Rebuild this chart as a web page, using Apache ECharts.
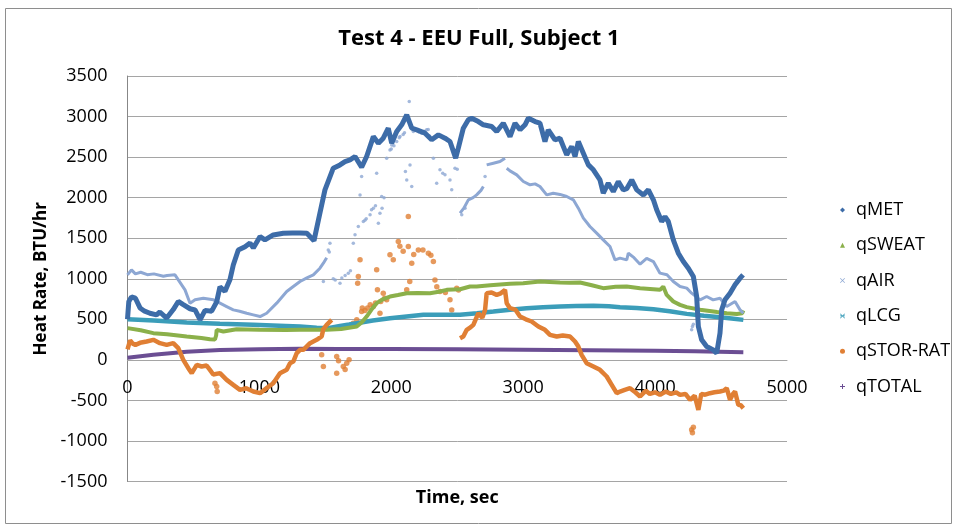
<!DOCTYPE html>
<html>
<head>
<meta charset="utf-8">
<script src="https://cdn.jsdelivr.net/npm/echarts@6/dist/echarts.min.js"></script>
<style>
html,body{margin:0;padding:0;background:#fff;}
#c{width:958px;height:527px;}
</style>
</head>
<body>
<div id="c"></div>
<script>
// ---------- data ----------
const X_TICKS = [0, 1000, 2000, 3000, 4000, 5000];
const Y_TICKS = [-1500, -1000, -500, 0, 500, 1000, 1500, 2000, 2500, 3000, 3500];
const SERIES_NAMES = ['qMET', 'qSWEAT', 'qAIR', 'qLCG', 'qSTOR-RAT', 'qTOTAL'];

const MET_T = [0, 10, 30, 60, 95, 130, 170, 220, 245, 297, 347, 385, 423, 474, 512, 550, 588, 638, 676, 701, 739, 777, 802, 840, 891, 929, 954, 1005, 1042, 1105, 1181, 1250, 1308, 1360, 1414, 1459, 1497, 1560, 1611, 1649, 1687, 1725, 1775, 1813, 1864, 1902, 1939, 1977, 2003, 2041, 2079, 2117, 2155, 2193, 2256, 2306, 2357, 2407, 2445, 2488, 2508, 2546, 2584, 2610, 2660, 2698, 2761, 2799, 2849, 2900, 2938, 2976, 3014, 3039, 3090, 3127, 3165, 3190, 3241, 3279, 3330, 3368, 3393, 3418, 3456, 3494, 3532, 3582, 3607, 3645, 3683, 3721, 3759, 3785, 3823, 3861, 3911, 3949, 3987, 4012, 4050, 4075, 4100, 4138, 4176, 4214, 4252, 4290, 4315, 4328, 4353, 4391, 4441, 4467, 4492, 4505, 4530, 4568, 4606, 4644, 4667];
const MET_V = [500, 720, 775, 760, 640, 600, 575, 555, 590, 515, 620, 720, 680, 630, 615, 495, 610, 600, 715, 900, 845, 990, 1170, 1355, 1395, 1440, 1380, 1520, 1480, 1540, 1560, 1565, 1565, 1560, 1470, 1810, 2096, 2363, 2404, 2445, 2466, 2507, 2375, 2507, 2753, 2671, 2733, 2856, 2671, 2815, 2898, 3021, 2856, 2836, 2795, 2713, 2774, 2733, 2692, 2487, 2610, 2856, 2960, 2980, 2938, 2898, 2877, 2815, 2918, 2753, 2918, 2836, 2898, 2980, 2938, 2918, 2692, 2836, 2713, 2733, 2528, 2630, 2507, 2692, 2548, 2404, 2343, 2219, 2055, 2178, 2075, 2199, 2096, 2110, 2219, 2096, 2034, 2096, 1973, 1850, 1706, 1767, 1706, 1480, 1315, 1212, 1130, 1028, 781, 411, 247, 164, 123, 82, 329, 617, 740, 822, 925, 1007, 1048];

const SWEAT_T = [0, 100, 196, 300, 449, 560, 625, 663, 672, 676, 727, 827, 1000, 1200, 1308, 1434, 1510, 1620, 1738, 1775, 1813, 1850, 1889, 1939, 1990, 2050, 2117, 2200, 2293, 2360, 2420, 2521, 2597, 2647, 2750, 2900, 3000, 3127, 3200, 3279, 3350, 3431, 3520, 3607, 3700, 3785, 3886, 3987, 4037, 4062, 4088, 4138, 4189, 4240, 4341, 4470, 4543, 4620, 4660, 4669];
const SWEAT_V = [391, 365, 329, 315, 288, 270, 255, 252, 300, 370, 349, 378, 372, 368, 370, 370, 372, 380, 411, 460, 534, 620, 699, 750, 781, 800, 822, 825, 822, 840, 863, 870, 904, 904, 920, 937, 945, 966, 960, 953, 950, 953, 920, 884, 900, 904, 884, 871, 863, 904, 801, 720, 678, 650, 617, 590, 575, 565, 575, 610];

const LCG_T = [0, 200, 449, 700, 954, 1200, 1308, 1434, 1530, 1611, 1680, 1738, 1860, 1990, 2117, 2243, 2400, 2521, 2650, 2774, 2900, 3026, 3150, 3279, 3400, 3532, 3650, 3734, 3860, 3987, 4110, 4240, 4370, 4492, 4580, 4669];
const LCG_V = [502, 485, 460, 445, 432, 418, 411, 395, 392, 419, 435, 452, 485, 514, 535, 555, 556, 555, 575, 596, 618, 637, 648, 657, 663, 666, 660, 650, 640, 625, 600, 567, 545, 526, 510, 493];

const TOTAL_T = [0, 196, 449, 701, 1000, 1308, 1600, 2000, 2500, 3000, 3500, 4000, 4300, 4669];
const TOTAL_V = [25, 62, 100, 120, 130, 136, 135, 135, 132, 125, 118, 112, 105, 95];

// qAIR: dense traces (several stretches) and scattered points
const AIR1_T = [0, 30, 60, 100, 150, 200, 272, 300, 360, 436, 474, 512, 575, 651, 701, 752, 802, 850, 904, 954, 1005, 1055, 1131, 1207, 1257, 1308, 1360, 1409, 1459, 1485, 1510];
const AIR1_V = [1048, 1110, 1060, 1080, 1050, 1060, 1030, 1040, 1048, 863, 699, 740, 760, 740, 699, 657, 616, 600, 575, 555, 534, 575, 699, 842, 904, 966, 1010, 1048, 1130, 1192, 1260];
const AIR2_T = [2521, 2550, 2584, 2620, 2647, 2680, 2698];
const AIR2_V = [1809, 1870, 1973, 2000, 2034, 2090, 2137];
const AIR3_T = [2723, 2774, 2824, 2862];
const AIR3_V = [2404, 2425, 2445, 2487];
const AIR4_T = [2875, 2900, 2951, 3001, 3052, 3090, 3127, 3178, 3228, 3279, 3330, 3380, 3418, 3456, 3506, 3557, 3607, 3658, 3696, 3734, 3785, 3797, 3840, 3886, 3936, 3987, 4037, 4090, 4138, 4189, 4240, 4277, 4341, 4391, 4440, 4492, 4543, 4606, 4644, 4669];
const AIR4_V = [2363, 2330, 2281, 2199, 2158, 2170, 2137, 2034, 2055, 2040, 2014, 1973, 1870, 1747, 1644, 1562, 1480, 1397, 1233, 1254, 1233, 1315, 1260, 1180, 1250, 1212, 1069, 1050, 966, 904, 884, 822, 740, 781, 740, 760, 657, 719, 616, 575];
const AIR_PTS_T = [1485, 1522, 1535, 1530, 1560, 1575, 1611, 1625, 1650, 1674, 1690, 1712, 1725, 1750, 1763, 1775, 1788, 1800, 1810, 1839, 1850, 1864, 1880, 1889, 1902, 1914, 1927, 1930, 1945, 1965, 1990, 2000, 2003, 2020, 2041, 2060, 2066, 2090, 2100, 2107, 2117, 2136, 2142, 2155, 2167, 2180, 2193, 2210, 2230, 2250, 2268, 2280, 2290, 2319, 2344, 2369, 2390, 2407, 2445, 2458, 2483, 2500, 2534, 2559, 2711, 4277, 4283, 4290];
const AIR_PTS_V = [966, 1356, 1438, 1330, 1000, 985, 945, 1010, 1040, 1069, 1100, 1438, 1541, 1644, 2034, 2260, 1706, 1720, 1740, 1788, 1850, 1870, 1900, 2302, 1685, 1809, 2014, 1870, 2000, 2487, 2589, 2600, 2650, 2640, 2692, 2740, 2753, 2780, 2800, 2322, 2219, 3185, 2404, 2137, 2815, 2830, 2836, 2810, 2795, 2820, 2836, 2840, 2760, 2487, 2178, 2343, 2300, 2281, 2219, 2096, 2363, 2350, 1788, 1870, 2260, 370, 411, 440];

// qSTOR-RAT: dense traces and scattered clusters
const STOR1_T = [0, 20, 40, 60, 95, 145, 196, 246, 297, 347, 385, 423, 461, 487, 525, 562, 600, 625, 650, 701, 752, 802, 853, 900, 954, 1005, 1055, 1105, 1156, 1207, 1232, 1257, 1283, 1308, 1333, 1384, 1434, 1472, 1485, 1510, 1548];
const STOR1_V = [130, 240, 200, 185, 210, 226, 247, 206, 185, 206, 144, 0, -103, -164, -62, -82, -70, -123, -180, -164, -247, -308, -370, -350, -391, -411, -349, -288, -164, -123, -41, -21, 82, 123, 123, 206, 247, 288, 380, 432, 493];
const STOR2_T = [2521, 2546, 2572, 2600, 2622, 2660, 2690, 2711, 2723, 2760, 2799, 2830, 2862, 2875, 2900, 2940, 2976, 3020, 3064, 3115, 3165, 3203, 3254, 3300, 3355, 3393, 3418, 3443, 3481, 3532, 3582, 3633, 3671, 3709, 3734, 3770, 3810, 3850, 3886, 3930, 3960, 4000, 4037, 4080, 4120, 4160, 4189, 4230, 4265, 4300, 4328, 4350, 4380, 4416, 4450, 4492, 4520, 4543, 4568, 4590, 4606, 4631, 4650, 4669];
const STOR2_V = [267, 288, 370, 400, 432, 575, 520, 616, 822, 830, 801, 820, 863, 699, 637, 620, 534, 500, 473, 411, 370, 308, 288, 300, 288, 226, 164, 62, -41, -82, -123, -205, -308, -411, -391, -370, -349, -400, -452, -380, -420, -400, -432, -390, -420, -400, -432, -420, -493, -440, -617, -420, -430, -411, -400, -391, -380, -349, -493, -420, -391, -555, -560, -596];
const STOR_PTS_T = [663, 676, 680, 1472, 1485, 1586, 1600, 1636, 1586, 1650, 1662, 1680, 1712, 1738, 1745, 1750, 1763, 1775, 1780, 1800, 1820, 1840, 1864, 1880, 1889, 1895, 1914, 1920, 1939, 1950, 1965, 1990, 2015, 2053, 2065, 2090, 2117, 2129, 2129, 2140, 2155, 2170, 2205, 2240, 2281, 2300, 2319, 2331, 2345, 2369, 2410, 2445, 2458, 2496, 2510, 4277, 4283, 4290];
const STOR_PTS_V = [-290, -330, -390, 62, -82, 41, -10, -82, -164, -120, -41, 0, 452, 493, 945, 1028, 1233, 596, 640, 610, 640, 680, 657, 700, 1110, 863, 575, 720, 822, 760, 740, 1295, 1233, 1459, 1400, 1340, 863, 1767, 1397, 966, 1192, 1300, 1356, 1356, 1315, 1290, 1212, 986, 900, 842, 830, 740, 616, 884, 860, -863, -900, -830];

// ---------- build ----------
const zip = (t, v) => t.map((x, i) => [x, v[i]]);
const FONT = '"Open Sans", "Noto Sans", sans-serif';
const C = {
  'qMET': '#3D6CA8', 'qSWEAT': '#8BB04A', 'qAIR': '#8DA7D3',
  'qLCG': '#3B9DB9', 'qSTOR-RAT': '#E07F34', 'qTOTAL': '#6B4E93'
};
function lineS(name, t, v, w) {
  return { name, type: 'line', data: zip(t, v), showSymbol: false, symbol: 'none',
    lineStyle: { color: C[name], width: w }, itemStyle: { color: C[name] },
    smooth: false, silent: true };
}
function dotS(name, t, v, size) {
  return { name, type: 'scatter', data: zip(t, v), symbol: 'circle', symbolSize: size,
    itemStyle: { color: C[name] }, silent: true };
}

const ICONS = {
  'qMET': 'diamond',
  'qSWEAT': 'triangle',
  'qAIR': 'path://M1,0L5,4L9,0L10,1L6,5L10,9L9,10L5,6L1,10L0,9L4,5L0,1Z',
  'qLCG': 'path://M1,0L5,4L9,0L10,1L6,5L10,9L9,10L5,6L1,10L0,9L4,5L0,1Z M0,4.3H10V5.7H0Z',
  'qSTOR-RAT': 'circle',
  'qTOTAL': 'path://M4,0H6V4H10V6H6V10H4V6H0V4H4Z'
};
const plain = v => String(v);

// plot area: y from 76 (3500) to 481.5 (-1500); the x axis crosses at value 0
const GRID_TOP = 76, GRID_BOTTOM_PX = 481.5;
const zeroOffset = -(GRID_BOTTOM_PX - (GRID_TOP + (GRID_BOTTOM_PX - GRID_TOP) * (Y_TICKS[Y_TICKS.length - 1] - 0) / (Y_TICKS[Y_TICKS.length - 1] - Y_TICKS[0])));

const chart = echarts.init(document.getElementById('c'), null, { renderer: 'canvas' });
chart.setOption({
  animation: false,
  backgroundColor: '#fff',
  title: {
    text: 'Test 4 - EEU Full, Subject 1',
    left: 'center', top: 19,
    textStyle: { fontFamily: FONT, fontSize: 22, fontWeight: 'bold', color: '#000', lineHeight: 30 }
  },
  graphic: [{
    type: 'rect', silent: true, z: -1,
    shape: { x: 5.5, y: 8.5, width: 946, height: 515 },
    style: { fill: 'none', stroke: '#8e8e8e', lineWidth: 1 }
  }],
  legend: {
    orient: 'vertical', left: 835, top: 195,
    itemWidth: 5, itemHeight: 5, itemGap: 15.3,
    data: SERIES_NAMES.map(n => ({ name: n, icon: ICONS[n] })),
    textStyle: { fontFamily: FONT, fontSize: 18, color: '#000', lineHeight: 20, padding: [0, 0, 0, 6] },
    selectedMode: false
  },
  grid: { left: 127.5, right: 171, top: GRID_TOP, bottom: 527 - GRID_BOTTOM_PX, containLabel: false, outerBoundsMode: 'none' },
  xAxis: {
    type: 'value', min: X_TICKS[0], max: X_TICKS[X_TICKS.length - 1], interval: 1000,
    position: 'bottom', offset: zeroOffset,
    name: 'Time, sec', nameLocation: 'middle', nameGap: 129,
    nameTextStyle: { fontFamily: FONT, fontSize: 18, fontWeight: 'bold', color: '#000' },
    axisLine: { show: true, onZero: false, lineStyle: { color: '#a5a5a5', width: 1 } },
    axisTick: { show: false },
    splitLine: { show: false },
    axisLabel: { fontFamily: FONT, fontSize: 18, color: '#000', margin: 18, lineHeight: 20, formatter: plain }
  },
  yAxis: {
    type: 'value', min: Y_TICKS[0], max: Y_TICKS[Y_TICKS.length - 1], interval: 500,
    name: 'Heat Rate, BTU/hr', nameLocation: 'middle', nameGap: 77,
    nameTextStyle: { fontFamily: FONT, fontSize: 17, fontWeight: 'bold', color: '#000' },
    axisLine: { show: true, onZero: false, lineStyle: { color: '#878787', width: 1 } },
    axisTick: { show: false },
    splitLine: { show: true, lineStyle: { color: '#a5a5a5', width: 1 } },
    axisLabel: { fontFamily: FONT, fontSize: 18, color: '#000', margin: 20, formatter: plain }
  },
  series: [
    lineS('qTOTAL', TOTAL_T, TOTAL_V, 4),
    lineS('qLCG', LCG_T, LCG_V, 4.5),
    lineS('qSWEAT', SWEAT_T, SWEAT_V, 4),
    lineS('qAIR', AIR1_T, AIR1_V, 3),
    lineS('qAIR', AIR2_T, AIR2_V, 3),
    lineS('qAIR', AIR3_T, AIR3_V, 3),
    lineS('qAIR', AIR4_T, AIR4_V, 3),
    dotS('qAIR', AIR_PTS_T, AIR_PTS_V, 3.5),
    lineS('qSTOR-RAT', STOR1_T, STOR1_V, 4.5),
    lineS('qSTOR-RAT', STOR2_T, STOR2_V, 4.5),
    dotS('qSTOR-RAT', STOR_PTS_T, STOR_PTS_V, 5.5),
    lineS('qMET', MET_T, MET_V, 5)
  ]
});
</script>
</body>
</html>
